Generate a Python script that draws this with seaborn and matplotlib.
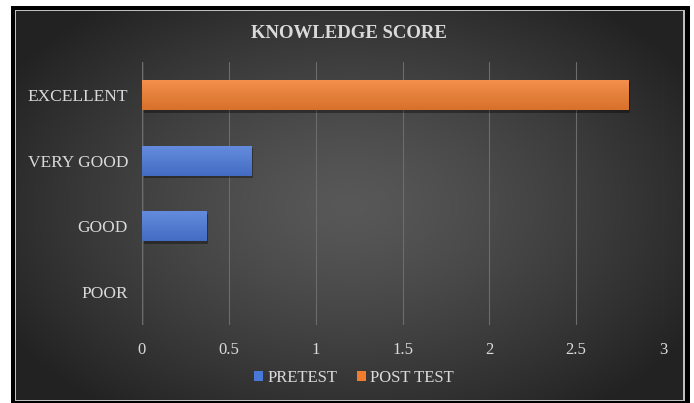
import numpy as np
import pandas as pd
import matplotlib
matplotlib.use("Agg")
import matplotlib.pyplot as plt
from matplotlib.patches import Rectangle
import matplotlib.colors as mcolors
import seaborn as sns

# ---- data ----
categories = ["EXCELLENT", "VERY GOOD", "GOOD", "POOR"]
pretest = [0.0, 0.63, 0.37, 0.0]
post_test = [2.8, 0.0, 0.0, 0.0]
series_names = ["PRETEST", "POST TEST"]
x_ticks = [0, 0.5, 1, 1.5, 2, 2.5, 3]
x_tick_labels = ["0", "0.5", "1", "1.5", "2", "2.5", "3"]
title = "KNOWLEDGE SCORE"

df = pd.DataFrame({
    "Category": categories * 2,
    "Score": pretest + post_test,
    "Test": [series_names[0]] * len(categories) + [series_names[1]] * len(categories),
})

sns.set_theme(style="dark")
plt.rcParams["font.family"] = ["Liberation Serif", "DejaVu Serif"]
TXT = "#DADADA"

W, H = 694, 403
fig = plt.figure(figsize=(W / 100, H / 100), dpi=100, facecolor="white")

def fx(px):
    return px / W

def fy(py):
    return 1 - py / H

# outer frame (double border look)
fig.patches.append(Rectangle((fx(11), fy(403)), fx(690) - fx(11), fy(6) - fy(403),
                             transform=fig.transFigure, facecolor="black",
                             edgecolor="none", zorder=-3))
fig.patches.append(Rectangle((fx(14.5), fy(401)), fx(685) - fx(14.5), fy(9.5) - fy(401),
                             transform=fig.transFigure, facecolor="#bfbfbf",
                             edgecolor="none", zorder=-2))

# background with radial gradient
bg = fig.add_axes([fx(16), fy(400), fx(683) - fx(16), fy(11) - fy(400)], zorder=0)
nx, ny = 400, 240
gx, gy = np.meshgrid(np.linspace(-1, 1, nx), np.linspace(-1, 1, ny))
r = np.sqrt((gx / 1.0) ** 2 + (gy / 1.1) ** 2)
r = np.clip(r, 0, 1.2) / 1.2
c_in = np.array([0x58, 0x58, 0x58]) / 255
c_out = np.array([0x22, 0x22, 0x22]) / 255
w = r[..., None] ** 1.3
img = c_in[None, None, :] * (1 - w) + c_out[None, None, :] * w
bg.imshow(img, aspect="auto", extent=[0, 1, 0, 1], interpolation="bilinear")
bg.set_axis_off()

# main axes
ax = fig.add_axes([fx(142), fy(325), fx(663) - fx(142), fy(62) - fy(325)], zorder=1)
ax.patch.set_alpha(0)

sns.barplot(data=df, x="Score", y="Category", hue="Test", order=categories,
            hue_order=series_names, palette=["#4A78D8", "#F07D2E"],
            saturation=1, linewidth=0, edgecolor="none",
            orient="h", dodge=False, width=0.46, ax=ax, legend=True)

handles, labels = ax.get_legend_handles_labels()
if ax.get_legend() is not None:
    ax.get_legend().remove()

ax.set_xlim(0, 3)
ax.set_ylim(len(categories) - 0.5, -0.5)

# vertical gradient + soft shadow on each bar (Excel style)
for p in list(ax.patches):
    if p.get_width() <= 0:
        continue
    x0, y0 = p.get_x(), p.get_y()
    bw, bh = p.get_width(), p.get_height()
    base = np.array(mcolors.to_rgb(p.get_facecolor()))
    top = base + (1 - base) * 0.15
    bot = base * 0.9
    t = np.linspace(0, 1, 64)[:, None, None]
    grad = top[None, None, :] * (1 - t) + bot[None, None, :] * t
    sh = Rectangle((x0 + 0.01, y0 + 0.04), bw, bh, facecolor="black",
                   alpha=0.35, edgecolor="none", zorder=1.5)
    ax.add_patch(sh)
    im = ax.imshow(grad, extent=[x0, x0 + bw, y0 + bh, y0], aspect="auto",
                   interpolation="bilinear", zorder=2.5)
    im.set_clip_path(p)
    p.set_zorder(2)

ax.set_xlim(0, 3)
ax.set_ylim(len(categories) - 0.5, -0.5)
ax.set_aspect("auto")
ax.set_xticks(x_ticks)
ax.set_xticklabels(x_tick_labels)
ax.set_xlabel("")
ax.set_ylabel("")
for s in ax.spines.values():
    s.set_visible(False)
ax.grid(axis="x", color="#6c6c6c", linewidth=0.8)
ax.grid(axis="y", visible=False)
ax.set_axisbelow(True)
ax.axvline(0, color="#8c8c8c", linewidth=1.0, zorder=0.5)
ax.tick_params(axis="x", colors=TXT, labelsize=12, length=0, pad=12)
ax.tick_params(axis="y", colors=TXT, labelsize=12.5, length=0, pad=10)
for t in ax.get_xticklabels() + ax.get_yticklabels():
    t.set_color(TXT)

fig.text(0.503, fy(34), title, ha="center", va="center", color=TXT,
         fontsize=13.5, fontweight="bold")

fig.legend(handles, labels, loc="center", bbox_to_anchor=(0.51, fy(378)),
           ncol=2, frameon=False, fontsize=12, labelcolor=TXT,
           handlelength=0.55, handleheight=0.55, handletextpad=0.25,
           columnspacing=1.2)

fig.savefig("out.png", dpi=100, facecolor="white")
